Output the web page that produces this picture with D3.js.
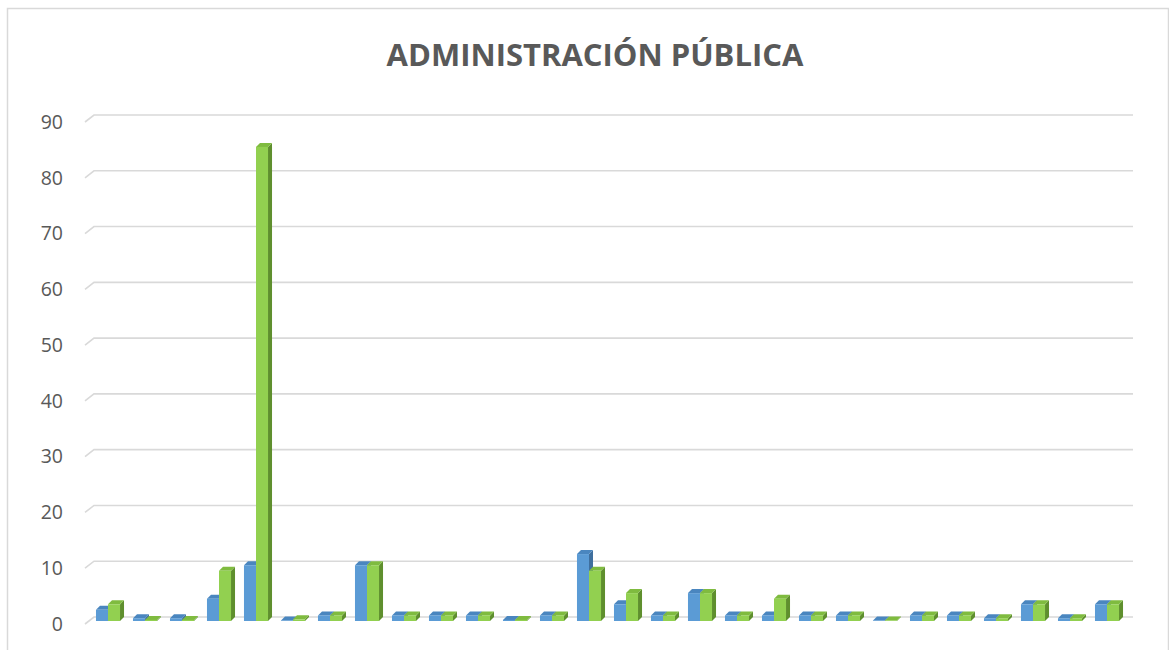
<!DOCTYPE html>
<html>
<head>
<meta charset="utf-8">
<script src="https://cdn.jsdelivr.net/npm/d3@7"></script>
<style>
  body { margin: 0; background: #fff; }
  svg { display: block; font-family: "Open Sans", "Liberation Sans", sans-serif; }
</style>
</head>
<body>
<svg id="chart" width="1169" height="650"></svg>
<script>
// 28 categories (no labels shown on the axis)
const categories = d3.range(1, 29).map(String);
const series = ['Serie 1', 'Serie 2'];
const blueValues  = [2, 0.5, 0.5, 4, 10, 0.1, 1, 10, 1, 1, 1, 0.2, 1, 12, 3, 1, 5, 1, 1, 1, 1, 0.1, 1, 1, 0.5, 3, 0.5, 3];
const greenValues = [3, 0.2, 0.2, 9, 85, 0.3, 1, 10, 1, 1, 1, 0.2, 1, 9, 5, 1, 5, 1, 4, 1, 1, 0.1, 1, 1, 0.5, 3, 0.5, 3];
const yTicks = [0, 10, 20, 30, 40, 50, 60, 70, 80, 90];

const colors = {
  'Serie 1': { front: '#5b9bd5', top: '#4a86bf', side: '#3f6f9e' },
  'Serie 2': { front: '#92d050', top: '#7fbb3f', side: '#5f8f2e' }
};

const svg = d3.select('#chart');
const DX = 4, DY = 4; // bar depth
const WALL_X = 9, WALL_Y = 7; // floor/wall offset for gridlines

const x = d3.scaleBand().domain(categories).range([89.5, 1125.5]).paddingInner(0.35).paddingOuter(0.175);
const xs = d3.scaleBand().domain(series).range([0, x.bandwidth()]);
const y = d3.scaleLinear().domain([0, 90]).range([617, 115]);

// chart border
svg.append('rect')
  .attr('x', 7.5).attr('y', 8.5)
  .attr('width', 1161).attr('height', 660)
  .attr('fill', 'none')
  .attr('stroke', '#d9d9d9')
  .attr('stroke-width', 1.5);

// title
svg.append('text')
  .attr('x', 595).attr('y', 66)
  .attr('text-anchor', 'middle')
  .attr('font-size', 31)
  .attr('font-weight', 'bold')
  .attr('fill', '#595959')
  .text('ADMINISTRACIÓN PÚBLICA');

// gridlines with the 3D wall bend
const grid = svg.append('g');
yTicks.forEach(t => {
  const gy = y(t);
  grid.append('path')
    .attr('d', `M${94 - WALL_X},${gy + WALL_Y}L94,${gy}L1133,${gy}`)
    .attr('fill', 'none')
    .attr('stroke', '#d9d9d9')
    .attr('stroke-width', 1.6);
  grid.append('text')
    .attr('x', 63).attr('y', gy + WALL_Y)
    .attr('dy', '0.35em')
    .attr('text-anchor', 'end')
    .attr('font-size', 19.5)
    .attr('fill', '#595959')
    .text(t);
});

// bars
const rows = categories.map((c, i) => ({ cat: c, values: [
  { s: 'Serie 1', v: blueValues[i] },
  { s: 'Serie 2', v: greenValues[i] }
]}));

const groups = svg.append('g').selectAll('g')
  .data(rows).join('g')
  .attr('transform', d => `translate(${x(d.cat)},0)`);

groups.each(function(d) {
  const g = d3.select(this);
  d.values.forEach(b => {
    const x0 = xs(b.s), w = xs.bandwidth();
    const yb = y(0) + DY, yt = y(b.v) + DY;
    const c = colors[b.s];
    // side face
    g.append('path')
      .attr('d', `M${x0 + w},${yb}L${x0 + w + DX},${yb - DY}L${x0 + w + DX},${yt - DY}L${x0 + w},${yt}Z`)
      .attr('fill', c.side);
    // top face
    g.append('path')
      .attr('d', `M${x0},${yt}L${x0 + DX},${yt - DY}L${x0 + w + DX},${yt - DY}L${x0 + w},${yt}Z`)
      .attr('fill', c.top);
    // front face
    g.append('rect')
      .attr('x', x0).attr('y', yt)
      .attr('width', w).attr('height', Math.max(0, yb - yt))
      .attr('fill', c.front);
  });
});
</script>
</body>
</html>
